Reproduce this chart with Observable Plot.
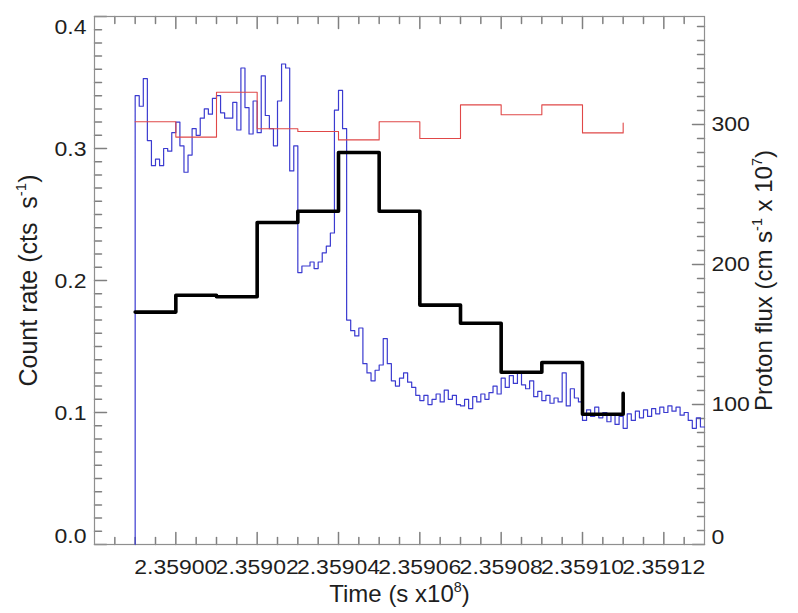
<!DOCTYPE html>
<html>
<head>
<meta charset="utf-8">
<script src="https://cdn.jsdelivr.net/npm/d3@7"></script>
<script src="https://cdn.jsdelivr.net/npm/@observablehq/plot@0.6"></script>
<style>
  html, body { margin: 0; padding: 0; background: #fff; }
  #chart { width: 798px; height: 613px; }
</style>
</head>
<body>
<div id="chart"></div>
<script>
// ---- Data ----
// Count rate light curve, 100 s bins starting at 2.358990e8 s
const rateStart = 2.358990;
const rateBin = 0.000001;
const countRate = [
  0.340,0.332,0.353,0.306,0.287,0.292,0.287,0.300,0.298,0.312,
  0.320,0.302,0.282,0.295,0.315,0.310,0.323,0.330,0.326,0.338,
  0.340,0.327,0.323,0.323,0.335,0.314,0.361,0.331,0.311,0.336,
  0.312,0.355,0.325,0.315,0.302,0.336,0.364,0.361,0.283,0.302,
  0.206,0.211,0.211,0.214,0.209,0.214,0.221,0.226,0.236,0.329,
  0.344,0.315,0.170,0.162,0.158,0.164,0.137,0.130,0.124,0.132,
  0.136,0.156,0.137,0.124,0.120,0.126,0.130,0.123,0.119,0.113,
  0.109,0.113,0.106,0.110,0.114,0.108,0.117,0.110,0.113,0.106,
  0.105,0.110,0.103,0.112,0.108,0.114,0.110,0.115,0.120,0.114,
  0.126,0.119,0.128,0.122,0.130,0.121,0.118,0.124,0.112,0.116,
  0.109,0.113,0.107,0.111,0.108,0.130,0.105,0.118,0.111,0.108,
  0.094,0.102,0.097,0.104,0.096,0.100,0.093,0.099,0.091,0.097,
  0.088,0.099,0.094,0.101,0.096,0.102,0.097,0.103,0.099,0.104,
  0.100,0.105,0.101,0.104,0.098,0.100,0.094,0.088,0.096,0.089
];

// Proton flux (cm s^-1 x 10^7), 1000 s bins starting at 2.35899e8 s (last value closes the final step)
const protonStart = 2.35899;
const protonBin = 0.00001;
const protonFluxRed   = [302, 291, 323, 297, 295, 289, 302, 290, 314, 307, 314, 294, 301];
const protonFluxBlack = [166, 178, 177, 230, 238, 280, 238, 171, 158, 123, 130,  93, 108];

// Axes
const xDomain = [2.35898, 2.35913];
const leftDomain = [0, 0.4];
const rightMax = 377.14;              // right-axis value at the top of the frame
const xMajorTicks = [2.35900, 2.35902, 2.35904, 2.35906, 2.35908, 2.35910, 2.35912];
const xMinorTicks = d3.range(2.358985, 2.359129, 0.000005);
const leftMajorTicks = [0, 0.1, 0.2, 0.3, 0.4];
const leftMinorTicks = d3.range(0.01, 0.4, 0.01);
const rightMajorTicks = [0, 100, 200, 300];
const rightMinorTicks = d3.range(10, 371, 10);

const xTitle = "Time (s x10^{8})";
const leftTitle = "Count rate (cts  s^{-1})";
const rightTitle = "Proton flux (cm s^{-1} x 10^{7})";

// ---- Build ----
const toLeft = v => v * leftDomain[1] / rightMax;
const frameW = 798 - 94 - 94;
const frameH = 613 - 16 - 69;
const pxX = n => n * (xDomain[1] - xDomain[0]) / frameW;   // pixel length in x units
const pxY = n => n * (leftDomain[1] - leftDomain[0]) / frameH;
const axisColor = "#8f8f8f";
const tickColor = "#808080";
const textColor = "#1e1e1e";

const rateRows = [{t: rateStart, v: 0}]
  .concat(countRate.map((v, i) => ({t: rateStart + i * rateBin, v})))
  .concat([{t: rateStart + countRate.length * rateBin, v: countRate[countRate.length - 1]}]);
const redRows = protonFluxRed.map((v, i) => ({t: protonStart + i * protonBin, v}));
const blackRows = protonFluxBlack.map((v, i) => ({t: protonStart + i * protonBin, v}));

const isMajorX = t => xMajorTicks.some(m => Math.abs(m - t) < 1e-7);
const xMinorOnly = xMinorTicks.filter(t => !isMajorX(t));
const rightMinorOnly = rightMinorTicks.filter(v => v % 100 !== 0);
const leftMinorOnly = leftMinorTicks.filter(v => Math.abs(v * 10 - Math.round(v * 10)) > 1e-6);

// Inward tick marks (IDL style) as two-point segments, one z group per tick
const segs = [];
const addY = (ticks, len, side) => ticks.forEach(v => {
  const id = side + len + ":" + v;
  const x0 = side === "left" ? xDomain[0] : xDomain[1];
  const x1 = side === "left" ? xDomain[0] + pxX(len) : xDomain[1] - pxX(len);
  const y = side === "left" ? v : toLeft(v);
  segs.push({id, x: x0, y}, {id, x: x1, y});
});
const addX = (ticks, len, side) => ticks.forEach(t => {
  const id = side + len + ":" + t;
  const y0 = side === "bottom" ? leftDomain[0] : leftDomain[1];
  const y1 = side === "bottom" ? leftDomain[0] + pxY(len) : leftDomain[1] - pxY(len);
  segs.push({id, x: t, y: y0}, {id, x: t, y: y1});
});
addY(leftMinorOnly, 7, "left");
addY(leftMajorTicks, 12, "left");
addY(rightMinorOnly, 7, "right");
addY(rightMajorTicks, 12, "right");
addX(xMinorOnly, 7, "bottom");
addX(xMajorTicks, 12, "bottom");
addX(xMinorOnly, 7, "top");
addX(xMajorTicks, 12, "top");

const tickFont = 19.5;
const fmtRight = d => String(Math.round(d * rightMax / leftDomain[1]));
const chart = Plot.plot({
  width: 798,
  height: 613,
  marginLeft: 94,
  marginRight: 94,
  marginTop: 16,
  marginBottom: 69,
  x: {domain: xDomain, axis: null},
  y: {domain: leftDomain, axis: null},
  style: {fontFamily: "'Liberation Sans', Arial, sans-serif", fontSize: tickFont + "px", color: textColor, background: "#fff"},
  marks: [
    Plot.line(segs, {x: "x", y: "y", z: "id", stroke: tickColor, strokeWidth: 1.5}),
    Plot.frame({stroke: axisColor, strokeWidth: 1.2}),

    // data
    Plot.line(rateRows, {x: "t", y: "v", curve: "step-after", stroke: "#3b3bd0", strokeWidth: 1.2}),
    Plot.line(redRows, {x: "t", y: d => toLeft(d.v), curve: "step-after", stroke: "#e04848", strokeWidth: 1.1}),
    Plot.line(blackRows, {x: "t", y: d => toLeft(d.v), curve: "step-after", stroke: "#000", strokeWidth: 3.6}),

    // tick labels
    Plot.axisX(xMajorTicks, {tickSize: 0, tickPadding: 16, tickFormat: d3.format(".5f"), label: null, fill: textColor}),
    Plot.axisY([0.1, 0.2, 0.3], {anchor: "left", tickSize: 0, tickPadding: 8, tickFormat: d3.format(".1f"), label: null, dy: 1, fill: textColor}),
    Plot.axisY([0], {anchor: "left", tickSize: 0, tickPadding: 8, tickFormat: d3.format(".1f"), label: null, dy: -8, fill: textColor}),
    Plot.axisY([0.4], {anchor: "left", tickSize: 0, tickPadding: 8, tickFormat: d3.format(".1f"), label: null, dy: 11, fill: textColor}),
    Plot.axisY(rightMajorTicks.slice(1).map(toLeft), {anchor: "right", tickSize: 0, tickPadding: 7, tickFormat: fmtRight, label: null, fill: textColor}),
    Plot.axisY([toLeft(rightMajorTicks[0])], {anchor: "right", tickSize: 0, tickPadding: 7, tickFormat: fmtRight, label: null, dy: -7, fill: textColor}),

    // axis titles
    Plot.text([xTitle], {frameAnchor: "bottom", dy: 50, fontSize: 24, fill: textColor, lineAnchor: "middle", textAnchor: "middle"}),
    Plot.text([leftTitle], {frameAnchor: "left", rotate: -90, dx: -66, fontSize: 25, fill: textColor, lineAnchor: "middle", textAnchor: "middle"}),
    Plot.text([rightTitle], {frameAnchor: "right", rotate: -90, dx: 60, fontSize: 24, fill: textColor, lineAnchor: "middle", textAnchor: "middle"})
  ]
});

document.getElementById("chart").appendChild(chart);

// Stretch tick labels horizontally (the reference's tick font is wide)
chart.querySelectorAll('g[aria-label$="tick label"] text').forEach(el => {
  const tr = el.getAttribute("transform") || "";
  el.setAttribute("transform", tr + " scale(1.18,1)");
});

// Superscripts in titles
const svgNS = "http://www.w3.org/2000/svg";
chart.querySelectorAll("text").forEach(el => {
  const s = el.textContent;
  if (!s.includes("^{")) return;
  const fs = parseFloat(el.getAttribute("font-size") || getComputedStyle(el).fontSize) || 24;
  const parts = s.split(/(\^\{[^}]*\})/).filter(p => p.length);
  el.textContent = "";
  let raised = false;
  for (const p of parts) {
    const ts = document.createElementNS(svgNS, "tspan");
    if (p.startsWith("^{")) {
      ts.textContent = p.slice(2, -1);
      ts.setAttribute("font-size", (fs * 0.6).toFixed(1));
      ts.setAttribute("dy", (-fs * 0.42).toFixed(1));
      raised = true;
    } else {
      ts.textContent = p;
      if (raised) { ts.setAttribute("dy", (fs * 0.42).toFixed(1)); raised = false; }
    }
    el.appendChild(ts);
  }
  el.setAttribute("style", (el.getAttribute("style") || "") + ";white-space:pre");
});
</script>
</body>
</html>
